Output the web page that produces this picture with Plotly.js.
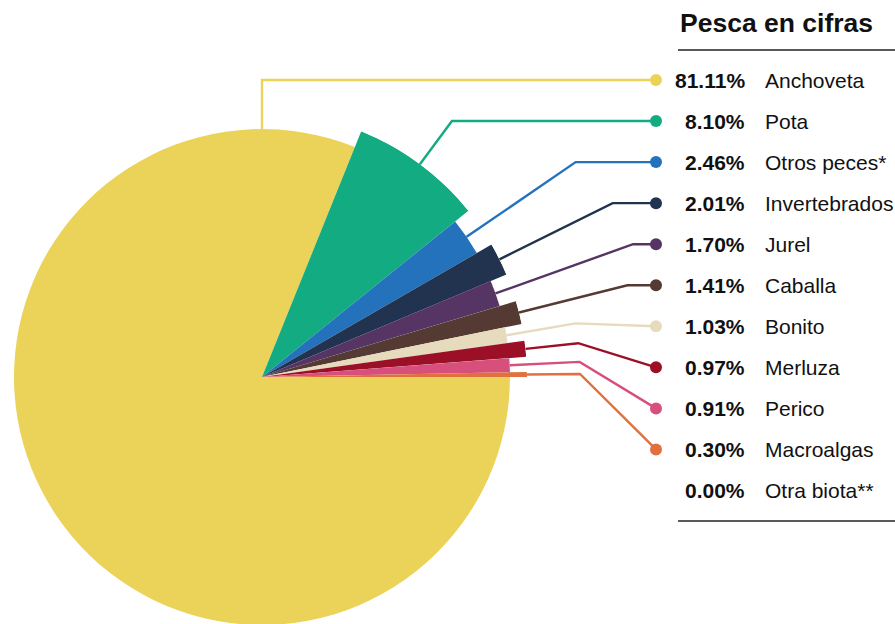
<!DOCTYPE html>
<html>
<head>
<meta charset="utf-8">
<script src="https://cdn.plot.ly/plotly-3.0.1.min.js"></script>
<style>
  html, body { margin: 0; padding: 0; background: #ffffff; overflow: hidden; width: 895px; height: 624px; }
  #wrap { position: relative; width: 895px; height: 624px; overflow: hidden; }
  #chart { position: absolute; left: -20px; top: 0; width: 935px; height: 700px; }
</style>
</head>
<body>
<div id="wrap"><div id="chart"></div></div>
<script>
// ---- data ----
const categories = ['Anchoveta', 'Pota', 'Otros peces*', 'Invertebrados', 'Jurel', 'Caballa', 'Bonito', 'Merluza', 'Perico', 'Macroalgas', 'Otra biota**'];
const shares = [81.11, 8.10, 2.46, 2.01, 1.70, 1.41, 1.03, 0.97, 0.91, 0.30, 0.00];
const colors = ['#ebd35a', '#13ab82', '#2472bb', '#22334f', '#563565', '#553a33', '#e6dbbd', '#9b1027', '#d6507b', '#e0713f', '#9a9a9a'];
const chartTitle = 'Pesca en cifras';

// ---- layout constants (screen pixels) ----
const W = 935, H = 700, OFFX = 20;
const cx = 262, cy = 377;
const R_BIG = 265, R_SMALL = 248;
const rowY0 = 80, rowStep = 41.05;
const dotX = 656;
const FONT = '"Liberation Sans", Arial, Helvetica, sans-serif';

const radii = shares.map((v, i) => (i % 2 === 1 ? R_BIG : R_SMALL));
const widths = shares.map(v => v * 3.6);
const starts = [];
let cum = 0;
shares.forEach(v => { starts.push(90 + cum * 3.6); cum += v; });
const mids = starts.map((s, i) => (s + widths[i] / 2) % 360);

const traces = [];
traces.push({
  type: 'barpolar',
  r: radii.filter((r, i) => shares[i] > 0),
  theta: mids.filter((m, i) => shares[i] > 0),
  width: widths.filter((w, i) => shares[i] > 0),
  marker: { color: colors.filter((c, i) => shares[i] > 0), line: { width: 0 } },
  hoverinfo: 'skip',
  subplot: 'polar'
});

const annotations = [];
const dotXs = [], dotYs = [], dotCs = [];
shares.forEach((v, i) => {
  const yL = rowY0 + rowStep * i;
  if (v > 0) {
    const lead = mids[i] > 180 ? 0 : mids[i];
    const a = lead * Math.PI / 180;
    const r0 = radii[i];
    let rY = (Math.cos(a) > 0.01 && yL < cy) ? (cy - yL) / Math.cos(a) : -1;
    const kr = lead === 0 ? rY : Math.max(1.2 * R_BIG, rY);
    const xs = [cx + r0 * Math.sin(a), cx + kr * Math.sin(a), dotX];
    const ys = [cy - r0 * Math.cos(a), cy - kr * Math.cos(a), yL];
    traces.push({
      type: 'scatter', mode: 'lines', x: xs, y: ys,
      xaxis: 'x', yaxis: 'y',
      line: { color: colors[i], width: 2.4 },
      hoverinfo: 'skip', showlegend: false
    });
    dotXs.push(dotX); dotYs.push(yL); dotCs.push(colors[i]);
  }
  annotations.push({
    xref: 'x', yref: 'y', x: 747, y: yL, xanchor: 'right', yanchor: 'middle',
    text: '<b>' + v.toFixed(2) + '%</b>', showarrow: false,
    font: { family: FONT, size: 21, color: '#111111' }
  });
  annotations.push({
    xref: 'x', yref: 'y', x: 763, y: yL, xanchor: 'left', yanchor: 'middle',
    text: categories[i], showarrow: false,
    font: { family: FONT, size: 21, color: '#111111' }
  });
});
traces.push({
  type: 'scatter', mode: 'markers', x: dotXs, y: dotYs,
  xaxis: 'x', yaxis: 'y',
  marker: { color: dotCs, size: 12, opacity: 1, line: { width: 0 } },
  hoverinfo: 'skip', showlegend: false
});
annotations.push({
  xref: 'x', yref: 'y', x: 678, y: 23, xanchor: 'left', yanchor: 'middle',
  text: '<b>' + chartTitle + '</b>', showarrow: false,
  font: { family: FONT, size: 26.5, color: '#111111' }
});

const layout = {
  width: W, height: H,
  margin: { l: 0, r: 0, t: 0, b: 0, pad: 0 },
  paper_bgcolor: '#ffffff', plot_bgcolor: 'rgba(0,0,0,0)',
  showlegend: false,
  font: { family: FONT },
  xaxis: { range: [-OFFX, W - OFFX], visible: false, fixedrange: true, domain: [0, 1] },
  yaxis: { range: [H, 0], visible: false, fixedrange: true, domain: [0, 1] },
  polar: {
    domain: {
      x: [(cx + OFFX - R_BIG) / W, (cx + OFFX + R_BIG) / W],
      y: [(H - (cy + R_BIG)) / H, (H - (cy - R_BIG)) / H]
    },
    bgcolor: 'rgba(0,0,0,0)',
    radialaxis: { range: [0, R_BIG], visible: false, showgrid: false, showline: false, ticks: '' },
    angularaxis: { rotation: 90, direction: 'clockwise', visible: false, showgrid: false, showline: false, ticks: '' }
  },
  shapes: [
    { type: 'line', xref: 'x', yref: 'y', x0: 678, x1: W, y0: 50, y1: 50, line: { color: '#222222', width: 1.3 } },
    { type: 'line', xref: 'x', yref: 'y', x0: 678, x1: W, y0: 521, y1: 521, line: { color: '#222222', width: 1.3 } }
  ],
  annotations: annotations
};

Plotly.newPlot('chart', traces, layout, { displayModeBar: false, staticPlot: true });
</script>
</body>
</html>
